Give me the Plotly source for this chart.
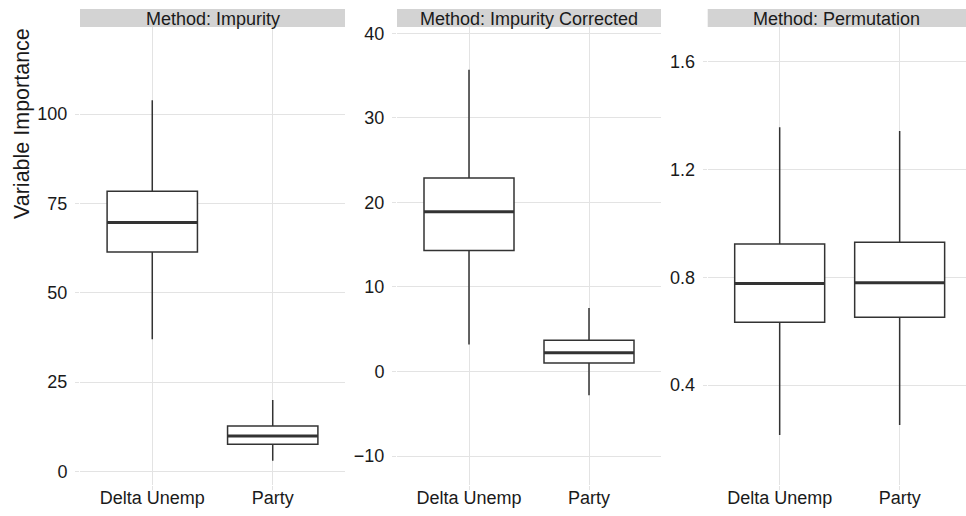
import plotly.graph_objects as go

W, H = 966, 516

categories = ["Delta Unemp", "Party"]
methods = ["Method: Impurity", "Method: Impurity Corrected", "Method: Permutation"]

# per method: [Delta Unemp, Party]
lower = [[37.0, 3.0], [3.2, -2.8], [0.215, 0.252]]
q1 = [[61.4, 7.6], [14.3, 1.0], [0.633, 0.652]]
median = [[69.7, 9.9], [18.9, 2.2], [0.777, 0.780]]
q3 = [[78.4, 12.7], [22.9, 3.7], [0.924, 0.930]]
upper = [[103.9, 20.0], [35.7, 7.5], [1.357, 1.343]]

y_ranges = [[-3.8, 124.4], [-13.43, 40.75], [0.029, 1.729]]
y_ticks = [[0, 25, 50, 75, 100], [-10, 0, 10, 20, 30, 40], [0.4, 0.8, 1.2, 1.6]]
y_ticktext = [["0", "25", "50", "75", "100"],
              ["\u221210", "0", "10", "20", "30", "40"],
              ["0.4", "0.8", "1.2", "1.6"]]

px_left = [80, 397, 707.7]
px_right = [345, 661, 966]
x_ranges = [[0.4, 2.6], [0.4, 2.6], [0.4, 2.553]]
top_px, bot_px = 27, 485
strip_top_px = 9

GRID = "#e3e3e3"
LINE = "#333333"
FONT = "Liberation Sans, Arial, Helvetica, sans-serif"

fig = go.Figure()
xpos = [1, 2]
for m in range(3):
    xa = "x" if m == 0 else f"x{m+1}"
    ya = "y" if m == 0 else f"y{m+1}"
    fig.add_trace(go.Box(
        x=xpos, q1=q1[m], median=median[m], q3=q3[m],
        lowerfence=lower[m], upperfence=upper[m],
        width=0.75, whiskerwidth=0,
        fillcolor="white", line=dict(color=LINE, width=1.5),
        boxpoints=False, hoverinfo="skip", showlegend=False,
        xaxis=xa, yaxis=ya,
    ))
    # thicker median bars (ggplot fatten)
    for i, xv in enumerate(xpos):
        fig.add_trace(go.Scatter(
            x=[xv - 0.375, xv + 0.375], y=[median[m][i], median[m][i]],
            mode="lines", line=dict(color=LINE, width=3),
            hoverinfo="skip", showlegend=False, xaxis=xa, yaxis=ya,
        ))

ydom = [1 - bot_px / H, 1 - top_px / H]
layout = dict(
    width=W, height=H, margin=dict(l=0, r=0, t=0, b=0, autoexpand=False),
    paper_bgcolor="white", plot_bgcolor="white",
    font=dict(family=FONT, color="#1a1a1a"),
)
shapes = []
annotations = []
for m in range(3):
    sfx = "" if m == 0 else str(m + 1)
    xd = [px_left[m] / W, min(px_right[m] / W, 1.0)]
    layout["xaxis" + sfx] = dict(
        domain=xd, range=x_ranges[m], anchor="y" + sfx,
        tickvals=xpos, ticktext=categories,
        showgrid=True, gridcolor=GRID, gridwidth=1,
        zeroline=False, showline=False, automargin=False,
        ticks="outside", ticklen=4, tickcolor=GRID,
        ticklabelstandoff=-8,
        tickfont=dict(size=18, color="#1a1a1a", family=FONT),
        fixedrange=True,
    )
    layout["yaxis" + sfx] = dict(
        domain=ydom, range=y_ranges[m], anchor="x" + sfx,
        tickvals=y_ticks[m], ticktext=y_ticktext[m],
        showgrid=True, gridcolor=GRID, gridwidth=1,
        zeroline=False, showline=False, automargin=False,
        ticks="outside", ticklen=4, tickcolor=GRID,
        ticklabelstandoff=4,
        tickfont=dict(size=18, color="#1a1a1a", family=FONT),
        fixedrange=True,
    )
    shapes.append(dict(
        type="rect", xref="paper", yref="paper",
        x0=xd[0], x1=xd[1], y0=1 - top_px / H, y1=1 - strip_top_px / H,
        fillcolor="#d3d3d3", line=dict(width=0), layer="below",
    ))
    annotations.append(dict(
        text=methods[m], xref="paper", yref="paper",
        x=(px_left[m] + min(px_right[m], W)) / 2 / W, y=1 - 19.5 / H,
        xanchor="center", yanchor="middle", showarrow=False,
        font=dict(size=18, color="#1a1a1a", family=FONT),
    ))

annotations.append(dict(
    text="Variable Importance", xref="paper", yref="paper",
    x=22 / W, y=1 - 124 / H, xanchor="center", yanchor="middle",
    textangle=-90, showarrow=False,
    font=dict(size=21.5, color="#1a1a1a", family=FONT),
))
layout["shapes"] = shapes
layout["annotations"] = annotations
fig.update_layout(**layout)
fig.write_html(
    "out.html",
    config={"displayModeBar": False},
    post_script="document.body.style.margin='0';document.body.style.overflow='hidden';",
)
